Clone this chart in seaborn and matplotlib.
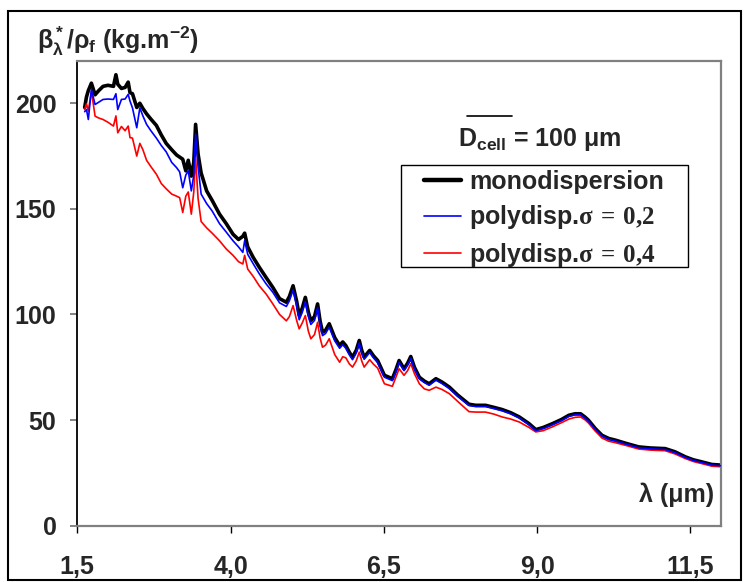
import matplotlib
matplotlib.use("Agg")
import matplotlib.pyplot as plt
import seaborn as sns
import pandas as pd
from matplotlib.lines import Line2D
from matplotlib.patches import Rectangle

# ---------------- data ----------------
wavelength = [1.62, 1.65, 1.68, 1.73, 1.79, 1.85, 1.92, 2.00, 2.09, 2.13, 2.16, 2.22, 2.28, 2.33, 2.36,
              2.40, 2.47, 2.52, 2.57, 2.63, 2.70, 2.79, 2.87, 2.95, 3.04, 3.12, 3.17, 3.22, 3.27, 3.31,
              3.36, 3.40, 3.43, 3.47, 3.52, 3.61, 3.70, 3.82, 3.93, 4.04, 4.13, 4.20, 4.23, 4.28, 4.37,
              4.47, 4.58, 4.69, 4.80, 4.91, 4.96, 5.02, 5.08, 5.12, 5.17, 5.22, 5.27, 5.31, 5.37, 5.42,
              5.46, 5.50, 5.55, 5.61, 5.70, 5.78, 5.83, 5.88, 5.94, 5.99, 6.05, 6.10, 6.14, 6.18, 6.27,
              6.33, 6.40, 6.51, 6.64, 6.70, 6.75, 6.83, 6.89, 6.94, 7.00, 7.08, 7.16, 7.24, 7.35, 7.45,
              7.57, 7.70, 7.89, 8.00, 8.16, 8.30, 8.43, 8.57, 8.71, 8.87, 8.98, 9.10, 9.25, 9.40, 9.52,
              9.62, 9.71, 9.78, 9.84, 9.95, 10.06, 10.17, 10.28, 10.45, 10.66, 10.85, 11.09, 11.25,
              11.42, 11.55, 11.69, 11.85, 12.0]

mono = [198, 203, 206, 209.5, 204, 206, 208, 208.5, 208, 213.5, 209, 207, 207.5, 210, 205,
        204.5, 198, 200, 197.5, 195, 192.5, 189.5, 185, 181, 178, 175.5, 174.5, 173.5, 168, 173,
        165.5, 172, 190, 176, 167, 158.5, 154, 147.5, 143, 138, 135.5, 137, 138.5, 132, 127,
        122.3, 117.5, 112.8, 107.5, 105.8, 108.5, 113.6, 106, 99.5, 103, 108.1, 101, 97.1, 99, 105,
        97, 91.6, 92.5, 95.6, 89, 85.3, 87, 85.3, 82, 79.8, 83, 87.7, 83, 79.8, 83,
        80.5, 78.2, 71.2, 69.6, 74, 78.2, 74.3, 77, 80.1, 75, 70.3, 68.5, 67.2, 69.6, 68,
        65.6, 62, 57.5, 57, 57, 56, 55, 53.5, 51.5, 48.3, 45.5, 46.5, 48.3, 50.3, 52.3,
        53, 53, 51.5, 49.9, 46, 42.8, 41.3, 40.5, 39, 37.3, 36.8, 36.5, 35,
        32.6, 31.2, 30.2, 29, 28.7]

poly_02 = [196, 197, 192.3, 206.5, 199.4, 200.5, 201.8, 202, 201.8, 204.5, 197, 201.8, 202, 204.2, 201,
           197.8, 188.4, 197.8, 194, 190, 187, 183.5, 180, 177, 172, 169.5, 167.5, 160, 166, 168,
           158.5, 166, 185.3, 170, 157, 152.5, 149, 143, 139, 134.9, 132, 129.4, 134.9, 128.5, 124,
           119.2, 114.5, 110.5, 105.5, 103.8, 106.5, 111.6, 104, 97.5, 101, 106.1, 99, 95.3, 97.2, 103.2,
           95.3, 90, 91, 94, 87.5, 84, 85.7, 84, 80.8, 78.6, 81.8, 86.5, 81.8, 78.8, 82,
           79.5, 77.2, 70.3, 68.7, 73, 77.3, 73.4, 76.1, 79.2, 74.2, 69.5, 67.8, 66.5, 68.9, 67.3,
           64.9, 61.4, 56.9, 56.4, 56.4, 55.4, 54.4, 53, 51, 47.8, 45, 46, 47.8, 49.8, 51.8,
           52.5, 52.5, 51, 49.4, 45.6, 42.4, 40.9, 40.1, 38.6, 36.9, 36.4, 36.1, 34.6,
           32.3, 30.9, 29.9, 28.7, 28.4]

poly_04 = [197, 199.7, 196.3, 205.7, 193.9, 193, 192.3, 191, 189.2, 194, 186, 189, 187, 189.2, 183.7,
           183.5, 175, 181, 178, 173, 170, 166.4, 162, 159.5, 157, 156, 155.3, 148.3, 156, 158,
           147.5, 158, 174.2, 155, 144, 141, 138.5, 134.9, 131, 128, 125, 123.9, 128, 121.5, 118,
           113.5, 109.7, 105, 100, 97, 99, 104.2, 97, 93.2, 96, 99.5, 92, 88.5, 90.5, 96.3,
           89, 84.5, 85.5, 88.5, 81, 77.4, 80, 79.5, 76.5, 75.1, 78, 82.2, 78, 75.1, 78.6,
           76.5, 74.6, 67.2, 66, 70.5, 74.3, 71.2, 73.5, 76.7, 72, 67.2, 64.8, 64.1, 65.6, 64.5,
           62.5, 59, 54, 53.8, 53.8, 52.8, 51.5, 50.5, 49.1, 46.5, 44.4, 45, 46.8, 48.8, 50.5,
           51.3, 51.5, 50.2, 48.6, 44.8, 41.5, 40, 39.3, 38, 36.3, 35.8, 35.5, 34,
           31.8, 30.4, 29.4, 28.2, 27.9]

x_ticks = [1.5, 4.0, 6.5, 9.0, 11.5]
x_ticklabels = ["1,5", "4,0", "6,5", "9,0", "11,5"]
y_ticks = [0, 50, 100, 150, 200]

FS = 18

# ---------------- style ----------------
sns.set_theme(style="white")
plt.rcParams["font.family"] = ["Liberation Sans", "DejaVu Sans"]
plt.rcParams["font.weight"] = "bold"
plt.rcParams["mathtext.fontset"] = "custom"
plt.rcParams["mathtext.rm"] = "Liberation Sans:bold"
plt.rcParams["mathtext.bf"] = "Liberation Sans:bold"
plt.rcParams["mathtext.it"] = "Liberation Sans:bold"
plt.rcParams["mathtext.sf"] = "Liberation Serif:bold"

fig = plt.figure(figsize=(7.44, 5.82), dpi=100)
ax = fig.add_axes([0.1039, 0.0967, 0.969 - 0.1039, 0.8952 - 0.0967])

df = pd.DataFrame({"x": wavelength, "mono": mono, "p2": poly_02, "p4": poly_04})

sns.lineplot(data=df, x="x", y="p4", ax=ax, color="#ff0000", lw=1.2, sort=False,
             estimator=None, label=r"polydisp.$\mathsf{\sigma\,=\,0{,}4}$", zorder=2)
sns.lineplot(data=df, x="x", y="p2", ax=ax, color="#0000ff", lw=1.2, sort=False,
             estimator=None, label=r"polydisp.$\mathsf{\sigma\,=\,0{,}2}$", zorder=3)
sns.lineplot(data=df, x="x", y="mono", ax=ax, color="black", lw=2.6, sort=False,
             estimator=None, label="monodispersion", zorder=1)

ax.set_xlim(1.5, 12.0)
ax.set_ylim(0, 220)
ax.set_xticks(x_ticks)
ax.set_xticklabels(x_ticklabels)
ax.set_yticks(y_ticks)
ax.set_xlabel("")
ax.set_ylabel("")

ax.tick_params(axis="x", direction="out", length=5, width=1, color="black",
               pad=16, labelsize=FS, bottom=True)
ax.tick_params(axis="y", direction="out", length=5, width=1.2, color="#707070",
               pad=10, labelsize=FS, left=True)
for lab in ax.get_xticklabels() + ax.get_yticklabels():
    lab.set_fontweight("bold")

for side in ["top", "right", "bottom"]:
    ax.spines[side].set_color("#808080")
    ax.spines[side].set_linewidth(1.6)
ax.spines["left"].set_color("black")
ax.spines["left"].set_linewidth(1.3)

# legend (order: mono, 0.2, 0.4) with a hand-placed frame
handles, labels = ax.get_legend_handles_labels()
order = [2, 1, 0]
leg = ax.legend([handles[i] for i in order], [labels[i] for i in order],
                loc="upper left", bbox_to_anchor=((424 - 77.3) / 643.7, (525.7 - 170) / 464.7),
                frameon=False, handlelength=1.5, handletextpad=0.3,
                labelspacing=0.38, borderpad=0.0, borderaxespad=0.0,
                prop={"weight": "bold", "size": FS})
leg.get_lines()[0].set_linewidth(3.2)
ax.add_patch(Rectangle(((401 - 77.3) / 643.7, (525.7 - 267) / 464.7),
                       (688 - 401) / 643.7, (267 - 165) / 464.7, transform=ax.transAxes,
                       fill=False, edgecolor="black", lw=1.0, zorder=5))

# annotations
ax.text(0.719, 0.83, r"D$_{\mathrm{cell}}$ = 100 μm", transform=ax.transAxes,
        ha="center", va="center", fontsize=FS, fontweight="bold")
fig.add_artist(Line2D([467 / 744, 512 / 744], [1 - 116 / 582, 1 - 116 / 582],
                      color="black", lw=1.2))
ax.text(0.99, 0.066, "λ (μm)", transform=ax.transAxes, ha="right", va="center",
        fontsize=FS, fontweight="bold")
fig.text(37 / 744, 1 - 41 / 582, r"$\mathrm{\beta^*_\lambda/\rho_f}$ (kg.m$^{\mathrm{-2}}$)",
         ha="left", va="center", fontsize=FS, fontweight="bold")

# outer frame
fig.add_artist(Rectangle((8 / 744, 2 / 582), 733 / 744, 569 / 582, transform=fig.transFigure,
                         fill=False, edgecolor="black", lw=1.5))

fig.savefig("out.png", dpi=100)
